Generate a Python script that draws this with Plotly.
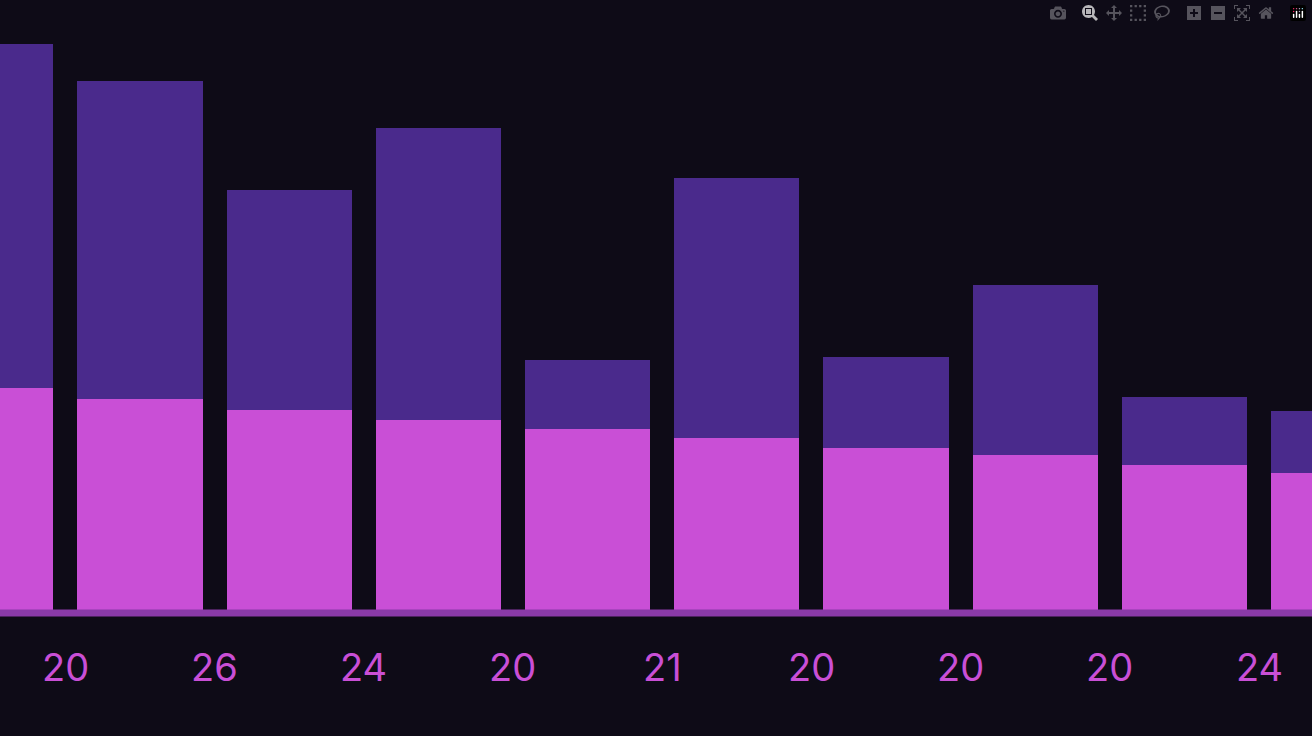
import plotly.graph_objects as go

positions = [0, 1, 2, 3, 4, 5, 6, 7, 8, 9]
lower_values = [222, 211, 200, 190, 181, 172, 162, 155, 145, 137]
upper_values = [344, 318, 220, 292, 69, 260, 91, 170, 68, 62]
label_positions = [0.5, 1.5, 2.5, 3.5, 4.5, 5.5, 6.5, 7.5, 8.5]
tick_labels = ["20", "26", "24", "20", "21", "20", "20", "20", "24"]

fig = go.Figure()
fig.add_bar(x=positions, y=lower_values, marker_color="#c94fd6", marker_line_width=0, width=0.84)
fig.add_bar(x=positions, y=upper_values, marker_color="#4a2a8c", marker_line_width=0, width=0.84)

for xp, t in zip(label_positions, tick_labels):
    fig.add_annotation(x=xp, y=-57 / 610, xref="x", yref="paper", text=t, showarrow=False,
                       font=dict(family="Inter", size=38, color="#c94fd6"),
                       yanchor="middle", xanchor="center")

fig.add_shape(type="line", xref="paper", x0=0, x1=1, yref="paper", y0=-3 / 610, y1=-3 / 610,
              line=dict(color="#8a3aa8", width=7))

fig.update_layout(
    barmode="stack", width=1312, height=736, showlegend=False,
    margin=dict(l=0, r=0, t=0, b=126),
    paper_bgcolor="#0e0b17", plot_bgcolor="#0e0b17",
    xaxis=dict(range=[0.062, 8.855], visible=False),
    yaxis=dict(range=[0, 610], visible=False),
)
fig.write_html("out.html", post_script="document.body.style.margin='0';document.body.style.background='#0e0b17';")
